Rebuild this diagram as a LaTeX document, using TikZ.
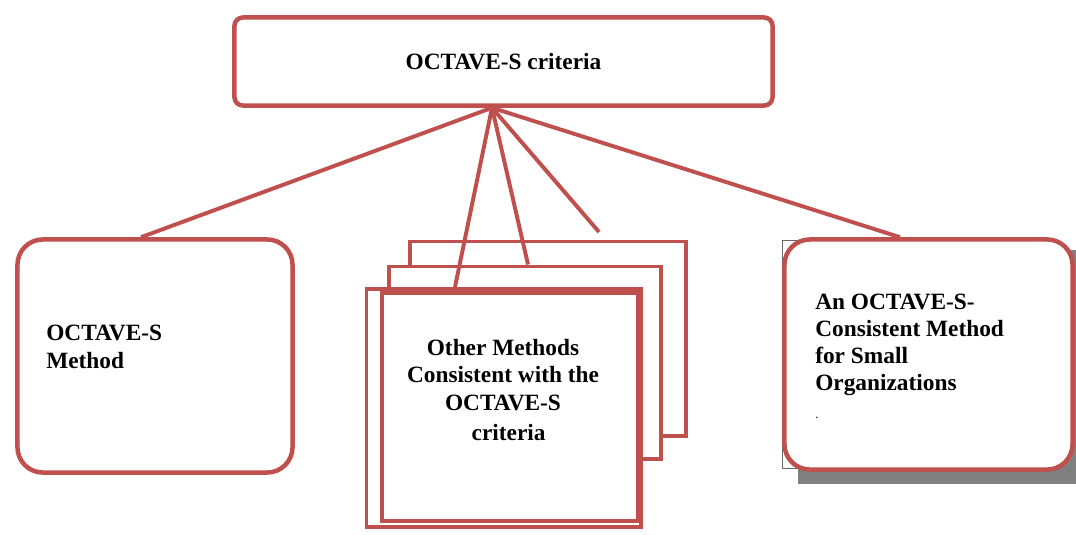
\documentclass[tikz,border=0pt]{standalone}
\usepackage{fontspec}
\setmainfont{Liberation Serif}
\usepackage{xcolor}
\usepackage{tikz}
\usetikzlibrary{positioning,calc}
\definecolor{octred}{RGB}{192,80,77}
\definecolor{shadegray}{RGB}{128,128,128}

\begin{document}
\begin{tikzpicture}[x=0.025cm, y=-0.025cm,
    font=\fontsize{16.6}{19.4}\selectfont\bfseries,
    box/.style={draw=octred, line width=3.2pt, fill=white, rounded corners=18pt},
    page/.style={draw=octred, line width=2.8pt, fill=white},
    txt/.style={inner sep=0pt, align=left},
    link/.style={draw=octred, line width=2.8pt}]
  \useasboundingbox (0,0) rectangle (1076,534);
  % top box
  \node[box, rounded corners=6pt, minimum width=13.45cm, minimum height=2.2cm]
    (top) at (503.5,61.5) {OCTAVE-S criteria};
  % left box
  \node[box, minimum width=6.875cm, minimum height=5.825cm] (leftbox) at (155,356) {};
  \node[txt, anchor=west] (lefttxt) at (46,347) {OCTAVE-S\\Method};
  % stack of pages in the middle
  \node[page, minimum width=6.9cm, minimum height=4.85cm] (backpage) at (548,338.5) {};
  \node[page, minimum width=6.8cm, minimum height=4.8cm] (midpage) at (525,362.5) {};
  \node[page, minimum width=6.85cm, minimum height=5.95cm] (frontback) at (503.5,408) {};
  \node[page, minimum width=6.4cm, minimum height=5.7cm] (front) at (510,407) {};
  \node[txt, align=center] (midtxt) at (503,390)
    {Other Methods\\Consistent with the\\OCTAVE-S\\[2pt]\hspace*{8pt}criteria};
  % right box with its shadow
  \fill[shadegray] (798,250) rectangle (1090,484);
  \draw[shadegray!80!black, line width=0.6pt] (782,240) rectangle (1055,468);
  \node[box, minimum width=7.2cm, minimum height=5.75cm] (rightbox) at (928.5,354.5) {};
  \node[txt, anchor=west] (righttxt) at (815,356)
    {An OCTAVE-S-\\Consistent Method\\for Small\\Organizations\\{\normalfont\small .}};
  % connectors from the top box
  \coordinate (hub) at (492,0 |- top.south);
  \coordinate (loose) at (599,232);
  \draw[link] (hub) -- (141,0 |- leftbox.north);
  \draw[link] (hub) -- (455,0 |- frontback.north);
  \draw[link] (hub) -- (528,0 |- midpage.north);
  \draw[link] (hub) -- (loose);
  \draw[link] (hub) -- (900,0 |- rightbox.north);
\end{tikzpicture}
\end{document}
